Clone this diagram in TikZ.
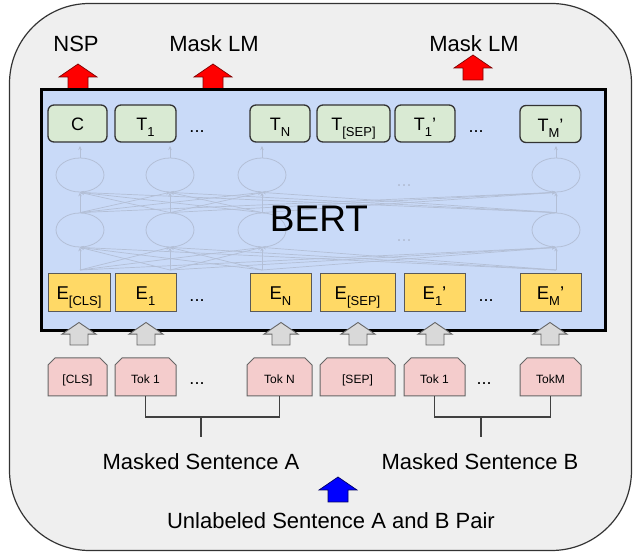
\documentclass[tikz,border=0pt]{standalone}
\usepackage{fontspec}
\setmainfont{Liberation Sans}
\usetikzlibrary{shapes.geometric,arrows.meta}

\definecolor{framegray}{HTML}{EFEFEF}
\definecolor{bertblue}{HTML}{C9DAF8}
\definecolor{outgreen}{HTML}{D9EAD3}
\definecolor{embyellow}{HTML}{FFD966}
\definecolor{tokpink}{HTML}{F4CCCC}
\definecolor{hidline}{HTML}{B3BFD6}

\newcommand{\lo}[1]{\raisebox{-6pt}{\fontsize{13}{13}\selectfont #1}}
\newcommand{\blockarrow}[3]{%
\begin{scope}[shift={(#2,#3)}]
\draw[#1] (-10,0) -- (-10,-12) -- (-19,-12) -- (0,-25) -- (19,-12) -- (10,-12) -- (10,0) -- cycle;
\end{scope}}
\newcommand{\tok}[4]{%
\draw[tokline] ({#2-#3/2},396) -- ({#2-#3/2},365) -- ({#2-#3/2+7},358) -- ({#2+#3/2-7},358) -- ({#2+#3/2},365) -- ({#2+#3/2},396) -- cycle;
\node[tokbox, minimum width=#3pt] (#1) at (#2,377) {#4};}

\tikzset{
  outbox/.style={draw=black!80, line width=1.3pt, fill=outgreen, rounded corners=6pt, minimum height=37pt,
    text height=15pt, text depth=0pt, inner sep=0pt, font=\fontsize{18}{18}\selectfont},
  embbox/.style={draw=black!65, line width=1pt, fill=embyellow, minimum height=38pt,
    text height=14pt, text depth=0pt, inner sep=0pt, font=\fontsize{18.5}{18}\selectfont},
  tokline/.style={draw=black!60, line width=1pt, fill=tokpink},
  tokbox/.style={minimum height=38pt, text height=13pt, text depth=0pt, inner sep=0pt, font=\fontsize{12}{12}\selectfont},
  redarrow/.style={fill=red, draw=red!50!black, line width=0.7pt},
  bluearrow/.style={fill=blue, draw=blue!40!black, line width=0.7pt},
  grayarrow/.style={fill=black!15, draw=black!60, line width=0.9pt, scale=0.9},
  hid/.style={ellipse, draw=hidline, line width=0.8pt, minimum width=48pt, minimum height=34pt, inner sep=0pt},
  hidarrow/.style={draw=hidline, line width=0.7pt, -{Stealth[length=4pt,width=3.5pt]}},
  lbl/.style={anchor=base, font=\fontsize{22}{22}\selectfont},
  dots/.style={anchor=base, font=\fontsize{18}{18}\selectfont},
}

\begin{document}
\begin{tikzpicture}[x=1pt,y=-1pt]
\useasboundingbox (0,0) rectangle (633,553);
\draw[fill=framegray, draw=black!80, line width=1.2pt, rounded corners=80pt] (9.5,3.5) rectangle (631.5,550.5);

% outputs on top
\blockarrow{redarrow}{78}{89}
\blockarrow{redarrow}{213}{89}
\blockarrow{redarrow}{473}{80}
\node[lbl] (nsp) at (76,52) {NSP};
\node[lbl] (mlmA) at (214,52) {Mask LM};
\node[lbl] (mlmB) at (474,52) {Mask LM};

\draw[fill=bertblue, line width=3pt] (41,89.5) rectangle (605,331);

% hidden layers
\foreach \x [count=\i] in {80,170,262,556} {
  \node[hid] (hidA\i) at (\x,175) {};
  \node[hid] (hidB\i) at (\x,230) {};
  \coordinate (in\i) at (\x,270);
  \coordinate (up\i) at (\x,146);
}
\foreach \i in {1,...,4} {
  \draw[hidarrow] (hidA\i.north) -- (up\i);
  \foreach \j in {1,...,4} {
    \draw[hidarrow] (in\i) -- (hidB\j.south);
    \draw[hidarrow] (hidB\i.north) -- (hidA\j.south);
  }
}
\node[dots, text=hidline] (hiddotsA) at (404,187) {...};
\node[dots, text=hidline] (hiddotsB) at (404,242) {...};
\node[anchor=base, font=\fontsize{37}{37}\selectfont] (bert) at (319,232) {BERT};

\node[outbox, minimum width=59pt] (outC) at (77.5,123.5) {C};
\node[outbox, minimum width=61pt] (outA1) at (145.5,123.5) {T\lo{1}};
\node[outbox, minimum width=60pt] (outAN) at (280,123.5) {T\lo{N}};
\node[outbox, minimum width=73pt] (outSEP) at (353.5,123.5) {T\lo{[SEP]}};
\node[outbox, minimum width=60pt] (outB1) at (425,123.5) {T\lo{1}'};
\node[outbox, minimum width=61pt] (outBM) at (550.5,124) {T\lo{M}'};
\node[dots] (outdotsA) at (197,133) {...};
\node[dots] (outdotsB) at (476,133) {...};

\node[embbox, minimum width=62pt] (embCLS) at (79,293) {E\lo{[CLS]}};
\node[embbox, minimum width=61pt] (embA1) at (145.5,293) {E\lo{1}};
\node[embbox, minimum width=61pt] (embAN) at (280.5,293) {E\lo{N}};
\node[embbox, minimum width=75pt] (embSEP) at (357.5,293) {E\lo{[SEP]}};
\node[embbox, minimum width=61pt] (embB1) at (434.5,293) {E\lo{1}'};
\node[embbox, minimum width=61pt] (embBM) at (550.5,293) {E\lo{M}'};
\node[dots] (embdotsA) at (197,302) {...};
\node[dots] (embdotsB) at (486,302) {...};

% token inputs
\foreach \x in {79,146,281,358,435,550}
  \blockarrow{grayarrow}{\x}{345};
\tok{tokCLS}{77.5}{59}{[CLS]}
\tok{tokA1}{145.5}{61}{Tok 1}
\tok{tokAN}{279.5}{65}{Tok N}
\tok{tokSEP}{357.5}{75}{[SEP]}
\tok{tokB1}{434.5}{61}{Tok 1}
\tok{tokBM}{550.5}{61}{TokM}
\node[dots] (tokdotsA) at (197,385) {...};
\node[dots] (tokdotsB) at (484,385) {...};

\coordinate (brA) at (201,417);
\coordinate (brB) at (481,417);
\draw[black!75, line width=1.3pt] (tokA1.south) |- (brA) -| (tokAN.south);
\draw[black!75, line width=1.3pt] (brA) -- ++(0,20);
\draw[black!75, line width=1.3pt] (tokB1.south) |- (brB) -| (tokBM.south);
\draw[black!75, line width=1.3pt] (brB) -- ++(0,20);
\node[lbl] (sentA) at (201,470) {Masked Sentence A};
\node[lbl] (sentB) at (480,470) {Masked Sentence B};

\blockarrow{bluearrow}{338}{502}
\node[lbl] (pair) at (331,529) {Unlabeled Sentence A and B Pair};
\end{tikzpicture}
\end{document}
